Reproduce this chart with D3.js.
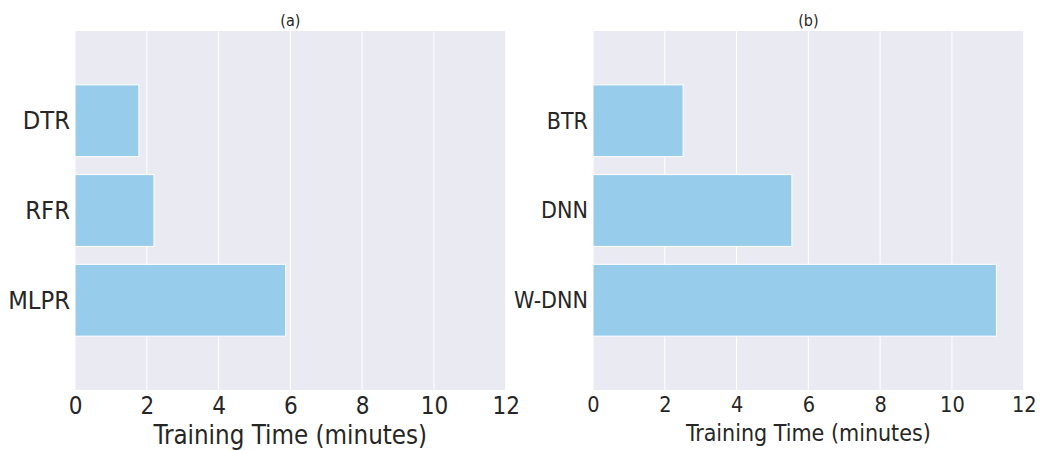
<!DOCTYPE html>
<html>
<head>
<meta charset="utf-8">
<script src="https://cdn.jsdelivr.net/npm/d3@7"></script>
<style>
  body { margin: 0; background: #fff; }
  svg text { font-family: "DejaVu Sans", sans-serif; font-stretch: condensed; fill: #262626; }
</style>
</head>
<body>
<div id="svg-container"></div>
<script>
// data
const modelsA = ["DTR", "RFR", "MLPR"];
const timesA = [1.78, 2.2, 5.87];
const modelsB = ["BTR", "DNN", "W-DNN"];
const timesB = [2.51, 5.54, 11.24];
const xTicks = [0, 2, 4, 6, 8, 10, 12];
const titles = ["(a)", "(b)"];
const xLabel = "Training Time (minutes)";

const width = 1041;
const height = 450;
const plotTop = 31, plotBottom = 390;

const svg = d3.select("#svg-container").append("svg")
  .attr("width", width).attr("height", height);

const panels = [
  { left: 75, right: 505.7, names: modelsA, vals: timesA, title: titles[0],
    tickSize: 24, ySize: 25.3, labelSize: 25.7, labelY: 443.5 },
  { left: 593, right: 1023.7, names: modelsB, vals: timesB, title: titles[1],
    tickSize: 21.5, ySize: 23, labelSize: 23, labelY: 441 }
];

panels.forEach((p) => {
  const g = svg.append("g");

  const x = d3.scaleLinear().domain([0, 12]).range([p.left, p.right]);
  const y = d3.scaleLinear().domain([-1, 3]).range([plotTop, plotBottom]);

  // background
  g.append("rect")
    .attr("x", p.left).attr("y", plotTop)
    .attr("width", p.right - p.left).attr("height", plotBottom - plotTop)
    .attr("fill", "#eaeaf2");

  // grid
  g.selectAll(".grid")
    .data(xTicks)
    .enter()
    .append("line")
    .attr("x1", (d) => x(d)).attr("x2", (d) => x(d))
    .attr("y1", plotTop).attr("y2", plotBottom)
    .attr("stroke", "#fff").attr("stroke-width", 1);

  // bars
  g.selectAll(".bar")
    .data(p.vals)
    .enter()
    .append("rect")
    .attr("x", x(0))
    .attr("y", (d, i) => y(i - 0.4))
    .attr("width", (d) => x(d) - x(0))
    .attr("height", y(0.8) - y(0))
    .attr("fill", "#97cdeb")
    .attr("stroke", "#fff")
    .attr("stroke-width", 1);

  // x axis
  const xAxis = g.append("g")
    .attr("transform", `translate(0, ${plotBottom})`)
    .call(d3.axisBottom(x).tickValues(xTicks).tickSize(0).tickPadding(7));
  xAxis.select(".domain").remove();
  xAxis.selectAll("text")
    .style("font-size", p.tickSize + "px")
    .attr("fill", "#262626");

  // y axis
  const yAxis = g.append("g")
    .attr("transform", `translate(${p.left}, 0)`)
    .call(d3.axisLeft(y).tickValues([0, 1, 2]).tickFormat((d) => p.names[d])
      .tickSize(0).tickPadding(5));
  yAxis.select(".domain").remove();
  yAxis.selectAll("text")
    .style("font-size", p.ySize + "px")
    .attr("fill", "#262626");

  // title
  g.append("text")
    .attr("x", (p.left + p.right) / 2)
    .attr("y", 26)
    .attr("text-anchor", "middle")
    .style("font-size", "16px")
    .text(p.title);

  // x label
  g.append("text")
    .attr("x", (p.left + p.right) / 2)
    .attr("y", p.labelY)
    .attr("text-anchor", "middle")
    .style("font-size", p.labelSize + "px")
    .text(xLabel);
});
</script>
</body>
</html>
